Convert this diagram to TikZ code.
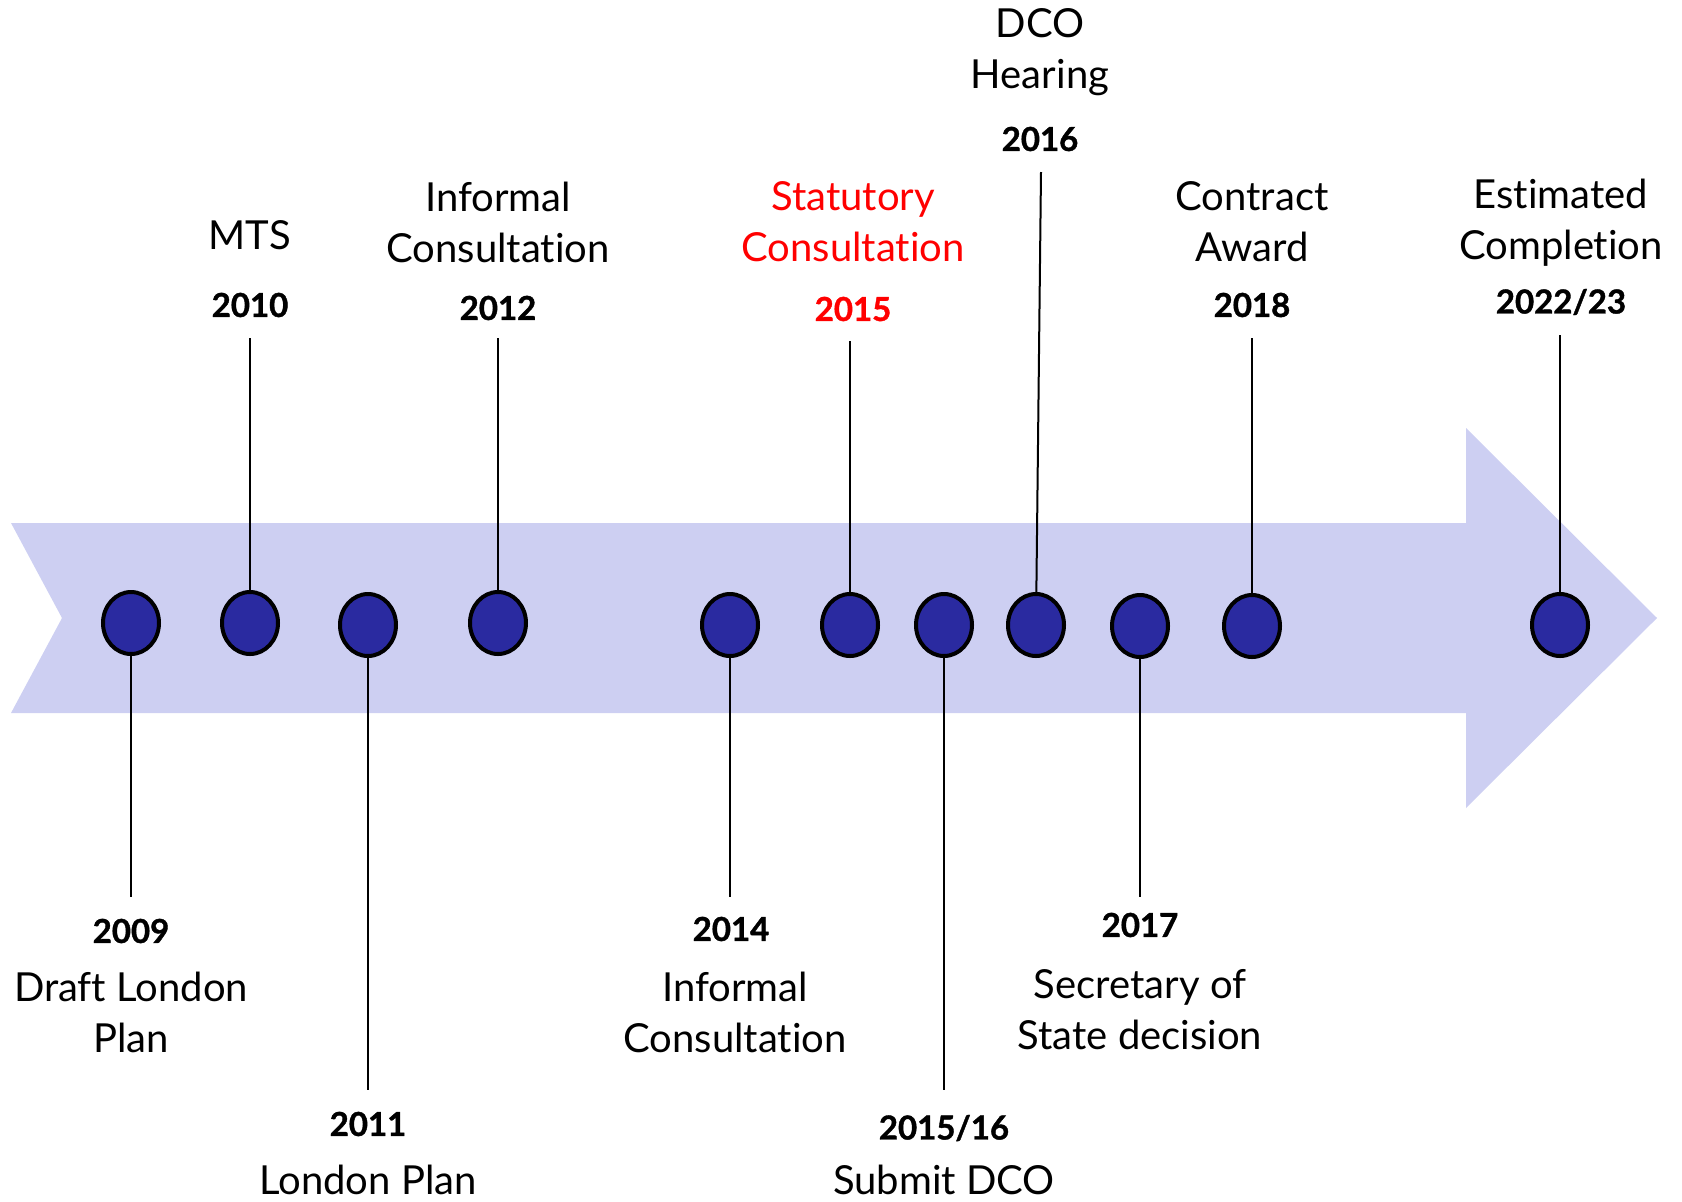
\documentclass[tikz,border=0pt]{standalone}
\usepackage{fontspec}
\setmainfont{Lato}[Ligatures=NoCommon]
\usetikzlibrary{shapes.geometric}
\definecolor{bandblue}{RGB}{205,207,242}
\definecolor{dotblue}{RGB}{42,42,160}

\begin{document}
\begin{tikzpicture}[x=0.5pt, y=-0.5pt,
	dot/.style={ellipse, draw=black, line width=2pt, fill=dotblue, minimum width=28pt, minimum height=31pt, inner sep=0pt},
	year/.style={font=\fontsize{16.5}{19}\selectfont\bfseries\addfontfeatures{FakeBold=1.2}},
	event/.style={font=\fontsize{20}{25.5}\selectfont, align=center},
	stem/.style={line width=1pt}]
	
	% khung trang
	\useasboundingbox (0,0) rectangle (1682,1201);
	
	% dải mũi tên nền
	\fill[bandblue] (11,523) -- (1466,523) -- (1466,428) -- (1657,618) -- (1466,808)
		-- (1466,713) -- (11,713) -- (62,618) -- cycle;
	
	% các mốc thời gian trên dải
	\foreach \n/\x/\y in {2009/131/623, 2010/250/623, 2011/368/625, 2012/498/623,
		2014/730/625, 2015/850/625, 201516/944/625, 2016/1036/625,
		2017/1140/626, 2018/1252/626, 2022/1560/625} {
		\node[dot] (d\n) at (\x,\y) {};
	}
	
	% đầu mút các đường nối
	\coordinate (t2010) at (250,338);
	\coordinate (t2012) at (498,338);
	\coordinate (t2015) at (850,341);
	\coordinate (t2016) at (1041,172);
	\coordinate (t2018) at (1252,338);
	\coordinate (t2022) at (1560,335);
	\coordinate (t2009) at (131,897);
	\coordinate (t2011) at (368,1090);
	\coordinate (t2014) at (730,897);
	\coordinate (t201516) at (944,1090);
	\coordinate (t2017) at (1140,897);
	
	% các đường nối lên trên và xuống dưới
	\foreach \n in {2010,2012,2015,2016,2018,2022,2009,2011,2014,201516,2017} {
		\draw[stem] (d\n) -- (t\n);
	}
	
	% nhãn phía trên
	\node[year] (y2010) at (250,305) {2010};
	\node[event] (l2010) at (250,235) {MTS};
	\node[year] (y2012) at (498,308) {2012};
	\node[event] (l2012) at (498,222) {Informal\\Consultation};
	\node[year, red] (y2015) at (853,309) {2015};
	\node[event, red] (l2015) at (853,222) {Statutory\\Consultation};
	\node[year] (y2016) at (1040,139) {2016};
	\node[event] (l2016) at (1040,52) {DCO\\Hearing};
	\node[year] (y2018) at (1252,305) {2018};
	\node[event] (l2018) at (1252,222) {Contract\\Award};
	\node[year] (y2022) at (1561,302) {2022/23};
	\node[event] (l2022) at (1561,223) {Estimated\\Completion};
	
	% nhãn phía dưới
	\node[year] (y2009) at (131,931) {2009};
	\node[event] (l2009) at (131,1012) {Draft London\\Plan};
	\node[year] (y2011) at (368,1124) {2011};
	\node[event] (l2011) at (368,1180) {London Plan};
	\node[year] (y2014) at (731,929) {2014};
	\node[event] (l2014) at (735,1012) {Informal\\Consultation};
	\node[year] (y201516) at (944,1128) {2015/16};
	\node[event] (l201516) at (944,1180) {Submit DCO};
	\node[year] (y2017) at (1140,925) {2017};
	\node[event] (l2017) at (1140,1010) {Secretary of\\State decision};
	
\end{tikzpicture}
\end{document}
